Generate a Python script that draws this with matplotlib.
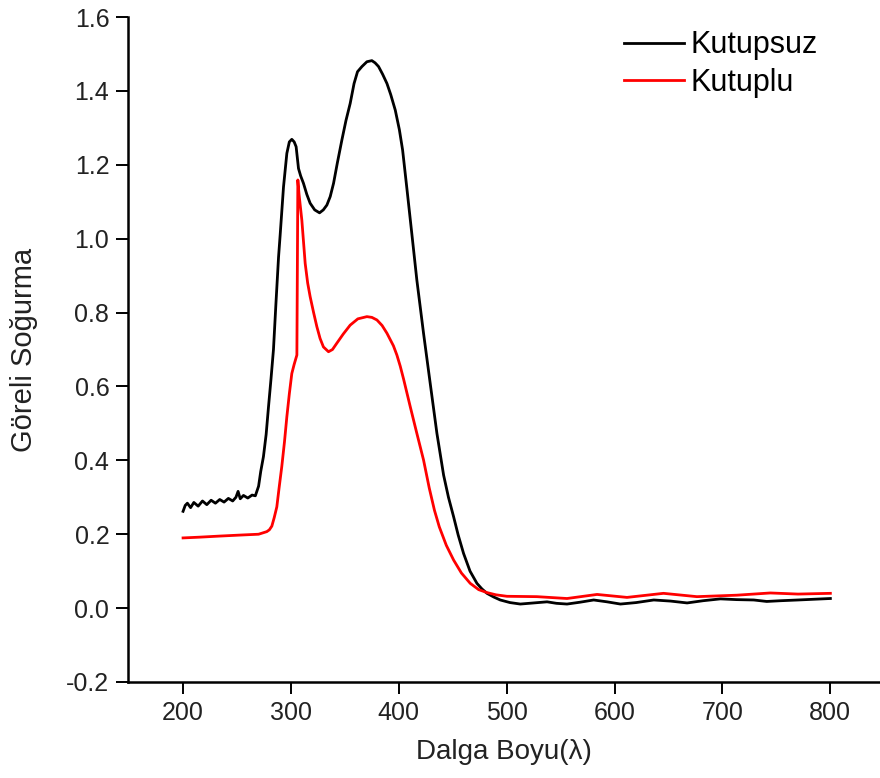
import matplotlib.pyplot as plt
import numpy as np

plt.rcParams['font.family'] = ['Liberation Sans', 'DejaVu Sans']
plt.rcParams['axes.unicode_minus'] = False

# Kutupsuz (black)
wl_kutupsuz = [200, 202, 204, 207, 210, 214, 218, 222, 226, 230, 234, 238, 242, 246,
               249, 251, 253, 256, 260, 264, 267, 270, 272, 274.5, 277, 279.2, 281.5,
               283.8, 286, 288.5, 290, 293.1, 296.2, 298.5, 300.8, 303, 304.8, 307,
               309, 311.6, 314.7, 317.8, 322, 326.5, 330, 333.3, 336.4, 339.5, 343,
               347.2, 351, 354.9, 358.5, 361.7, 365.8, 370.4, 375, 378, 381.2, 385,
               389, 392.5, 396.7, 400.5, 403.5, 407.5, 412.1, 416.7, 422.9, 429.1,
               435.3, 441.5, 446, 450.8, 455, 460, 466, 472.4, 477, 481.7, 488, 494,
               503, 512.6, 525, 537.4, 546, 555.9, 568, 580.6, 593, 605.4, 620,
               636.3, 652, 667.2, 682, 698.1, 713, 729, 741, 753.8, 770, 785, 800]
abs_kutupsuz = [0.262, 0.278, 0.284, 0.272, 0.286, 0.276, 0.290, 0.280, 0.292, 0.284,
                0.294, 0.287, 0.297, 0.290, 0.300, 0.316, 0.296, 0.305, 0.298, 0.306,
                0.304, 0.33, 0.37, 0.41, 0.47, 0.545, 0.62, 0.70, 0.82, 0.95, 1.01,
                1.14, 1.231, 1.262, 1.269, 1.262, 1.249, 1.19, 1.17, 1.150, 1.12,
                1.096, 1.078, 1.070, 1.078, 1.091, 1.114, 1.150, 1.205, 1.267, 1.32,
                1.366, 1.42, 1.452, 1.466, 1.479, 1.482, 1.476, 1.466, 1.445, 1.420,
                1.39, 1.348, 1.295, 1.24, 1.135, 1.012, 0.888, 0.744, 0.608, 0.473,
                0.360, 0.300, 0.247, 0.198, 0.148, 0.10, 0.067, 0.052, 0.040, 0.030,
                0.022, 0.015, 0.011, 0.014, 0.017, 0.013, 0.011, 0.016, 0.022, 0.017,
                0.011, 0.015, 0.022, 0.019, 0.014, 0.020, 0.025, 0.023, 0.022, 0.018,
                0.020, 0.022, 0.024, 0.026]

# Kutuplu (red)
wl_kutuplu = [200, 215, 234, 255, 270, 277.6, 280, 282.3, 284.5, 286.9, 289, 291.5,
              294, 296.2, 298.5, 300.8, 303, 305.5, 306.4, 307.5, 310.1, 313.2,
              315.5, 317.8, 321, 324, 327, 330.1, 334.8, 338.5, 342.5, 348.5, 354.9,
              362, 370.4, 375, 379.7, 384.5, 389, 395, 398.2, 401.3, 404.4, 410.6,
              416.7, 422.9, 428.2, 433, 437.5, 444, 450.8, 458, 466.2, 474, 481.7,
              490, 500.2, 528, 555.9, 583.7, 611.5, 645.3, 676.3, 713.4, 744.4,
              770, 800]
abs_kutuplu = [0.190, 0.192, 0.195, 0.198, 0.200, 0.207, 0.212, 0.222, 0.245, 0.274,
               0.325, 0.383, 0.45, 0.518, 0.58, 0.635, 0.66, 0.685, 1.159, 1.12,
               1.050, 0.933, 0.88, 0.843, 0.80, 0.762, 0.73, 0.707, 0.694, 0.70,
               0.717, 0.742, 0.766, 0.783, 0.789, 0.787, 0.780, 0.765, 0.744, 0.71,
               0.685, 0.655, 0.62, 0.545, 0.473, 0.401, 0.325, 0.265, 0.220, 0.17,
               0.130, 0.095, 0.067, 0.050, 0.042, 0.036, 0.032, 0.031, 0.026, 0.037,
               0.029, 0.040, 0.031, 0.035, 0.041, 0.038, 0.040]

x_ticks = [200, 300, 400, 500, 600, 700, 800]
y_ticks = [-0.2, 0.0, 0.2, 0.4, 0.6, 0.8, 1.0, 1.2, 1.4, 1.6]

fig = plt.figure(figsize=(8.8, 7.78), dpi=100)
ax = fig.add_axes([0.1455, 0.1234, 0.8545, 0.8547])

ax.plot(wl_kutupsuz, abs_kutupsuz, color='black', linewidth=2, label='Kutupsuz')
ax.plot(wl_kutuplu, abs_kutuplu, color='#ff0000', linewidth=2, label='Kutuplu')

ax.set_xlim(149, 846)
ax.set_ylim(-0.2, 1.6)
ax.set_xticks(x_ticks)
ax.set_yticks(y_ticks)
ax.set_yticklabels(['%.1f' % v for v in y_ticks])

for side in ['top', 'right']:
    ax.spines[side].set_visible(False)
for side in ['left', 'bottom']:
    ax.spines[side].set_linewidth(1.8)
ax.tick_params(direction='out', length=8.5, width=1.4, labelsize=18, pad=5,
               colors='black', labelcolor='#222222')

ax.set_xlabel('Dalga Boyu(λ)', fontsize=20, color='#222222', labelpad=10)
ax.set_ylabel('Göreli Soğurma', fontsize=21, color='#222222', labelpad=20)

ax.legend(loc='upper left', bbox_to_anchor=(0.709, 0.961), bbox_transform=fig.transFigure,
          frameon=False, fontsize=22, handlelength=1.96, handletextpad=0.23,
          labelspacing=0.25, borderpad=0, borderaxespad=0)

plt.savefig('out.png', dpi=100)
